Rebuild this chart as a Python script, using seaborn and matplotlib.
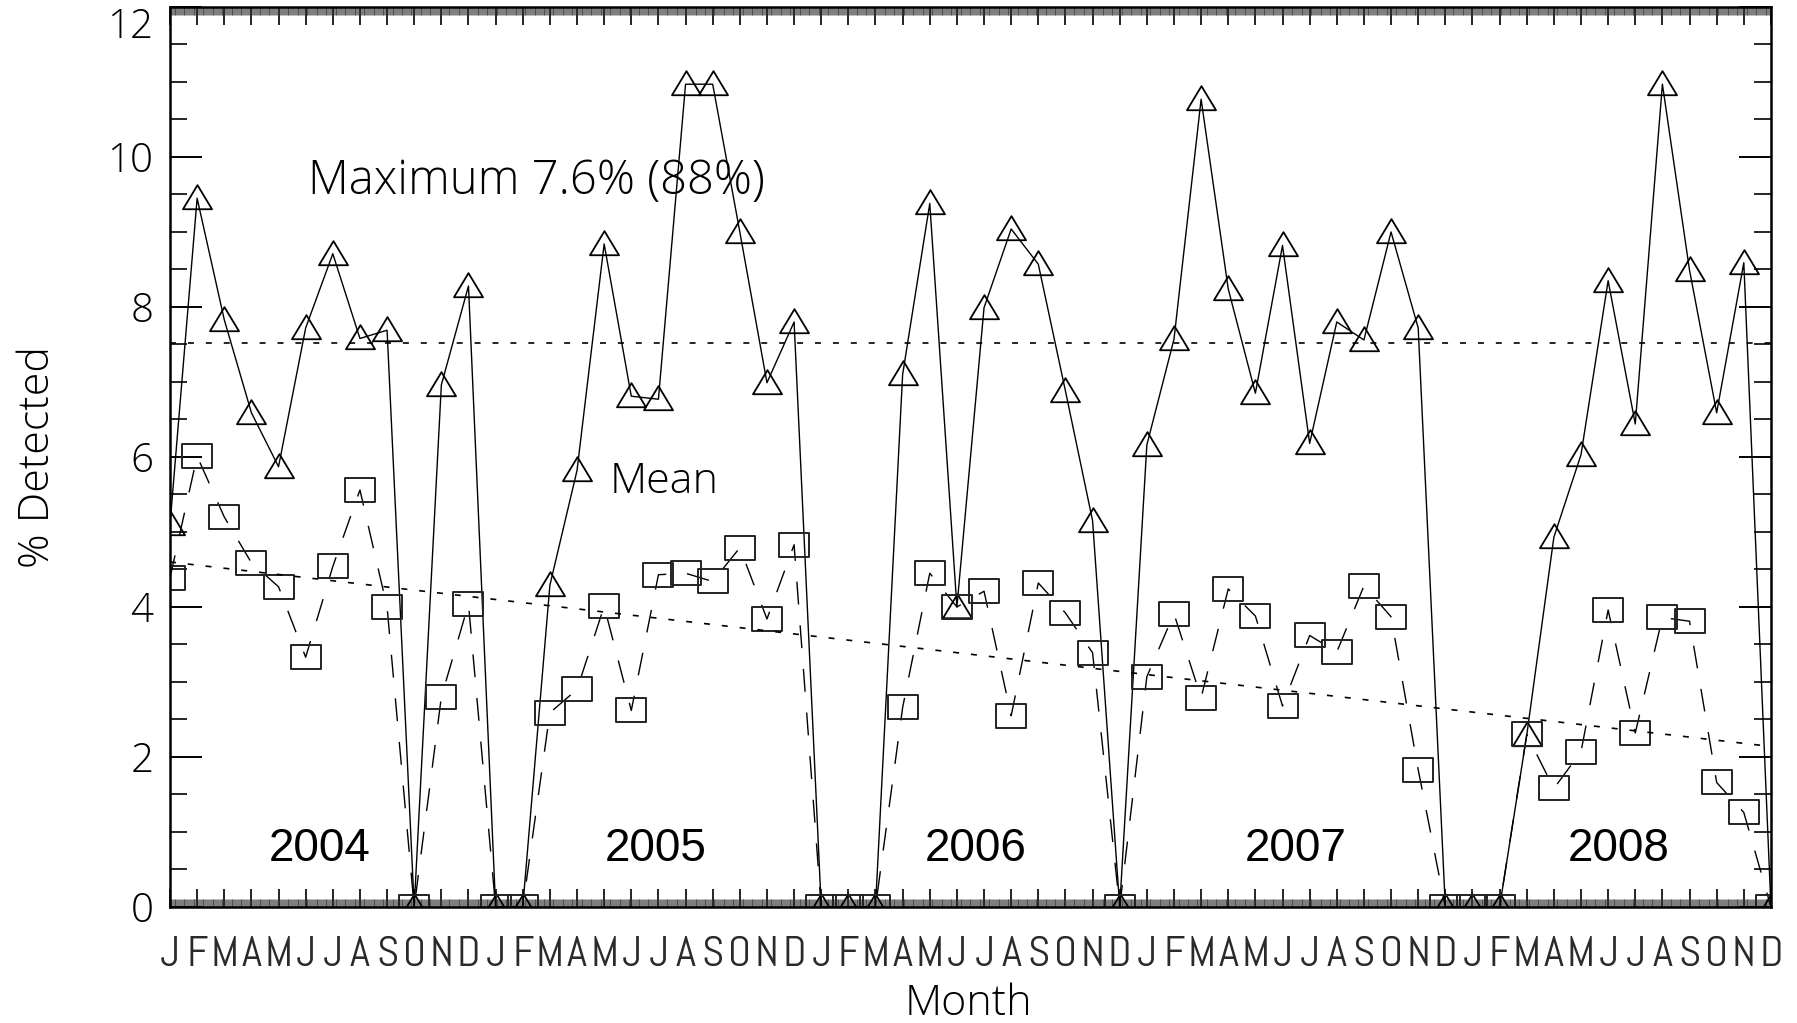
import numpy as np
import pandas as pd
import matplotlib
matplotlib.use("Agg")
import matplotlib.pyplot as plt
from matplotlib.path import Path
from matplotlib.ticker import FixedLocator, MultipleLocator
import seaborn as sns

# ---------------- data ----------------
month_letters = ["J", "F", "M", "A", "M", "J", "J", "A", "S", "O", "N", "D"]
years = ["2004", "2005", "2006", "2007", "2008"]
year_label_x = [5.5, 17.9, 29.7, 41.5, 53.4]
year_label_y = 0.77
y_ticks = [0, 2, 4, 6, 8, 10, 12]

max_detected = [5.1, 9.45, 7.83, 6.59, 5.87, 7.72, 8.71, 7.58, 7.69, 0.0, 6.96, 8.28,
                0.0, 0.0, 4.29, 5.82, 8.84, 6.81, 6.77, 10.97, 10.97, 9.0, 6.99, 7.8,
                0.0, 0.0, 0.0, 7.1, 9.38, 4.0, 7.99, 9.04, 8.57, 6.88, 5.15, 0.0,
                6.16, 7.57, 10.77, 8.24, 6.85, 8.82, 6.18, 7.8, 7.56, 9.0, 7.72, 0.0,
                0.0, 0.0, 2.29, 4.93, 6.03, 8.35, 6.44, 10.97, 8.49, 6.59, 8.59, 0.0]
mean_detected = [4.39, 6.01, 5.2, 4.59, 4.27, 3.33, 4.54, 5.56, 4.0, 0.0, 2.80, 4.04,
                 0.0, 0.0, 2.59, 2.9, 4.01, 2.62, 4.43, 4.45, 4.34, 4.79, 3.84, 4.83,
                 0.0, 0.0, 0.0, 2.66, 4.45, 4.0, 4.21, 2.55, 4.32, 3.92, 3.39, 0.0,
                 3.07, 3.91, 2.79, 4.24, 3.88, 2.68, 3.62, 3.40, 4.28, 3.87, 1.83, 0.0,
                 0.0, 0.0, 2.30, 1.58, 2.07, 3.96, 2.32, 3.86, 3.81, 1.66, 1.26, 0.0]

max_level = 7.52
trend_x = [0, 59]
trend_y = [4.60, 2.14]

max_text = "Maximum 7.6% (88%)"
max_text_pos = (5.09, 9.67)
mean_text = "Mean"
mean_text_pos = (16.2, 5.67)

# ---------------- style ----------------
sns.set_theme(style="white")
thin_family = ["Open Sans", "DejaVu Sans"]
narrow_family = ["Abel", "Open Sans", "DejaVu Sans"]
plt.rcParams["font.family"] = thin_family
plt.rcParams["font.weight"] = "light"
plt.rcParams["lines.scale_dashes"] = False
thin = dict(family=thin_family, weight="light")

fig = plt.figure(figsize=(17.97, 10.23), dpi=100)
ax = fig.add_axes([0.0946, 0.1134, 0.8909, 0.8798])

n = len(max_detected)
df = pd.DataFrame({
    "month": np.arange(n),
    "max": max_detected,
    "mean": mean_detected,
})

tri_marker = Path([(-0.5, -0.37), (0.5, -0.37), (0.0, 0.46), (-0.5, -0.37)],
                  [Path.MOVETO, Path.LINETO, Path.LINETO, Path.CLOSEPOLY])
sq_marker = Path([(-0.5, -0.43), (0.5, -0.43), (0.5, 0.43), (-0.5, 0.43), (-0.5, -0.43)],
                 [Path.MOVETO, Path.LINETO, Path.LINETO, Path.LINETO, Path.CLOSEPOLY])

sns.lineplot(data=df, x="month", y="max", ax=ax, color="black", linewidth=1.0,
             marker=tri_marker, markersize=20.9, markerfacecolor="none",
             markeredgecolor="black", markeredgewidth=1.3, errorbar=None)
sns.lineplot(data=df, x="month", y="mean", ax=ax, color="black", linewidth=1.0,
             linestyle=(0, (16.5, 15)),
             marker=sq_marker, markersize=20.9, markerfacecolor="none",
             markeredgecolor="#222222", markeredgewidth=1.4, errorbar=None)

ax.axhline(max_level, color="black", linewidth=1.2, linestyle=(0, (4.3, 8.6)))
ax.plot(trend_x, trend_y, color="black", linewidth=1.2, linestyle=(0, (4.3, 8.6)))

ax.set_xlim(0, n - 1)
ax.set_ylim(0, 12)

ax.xaxis.set_major_locator(FixedLocator(np.arange(n)))
ax.set_xticklabels([month_letters[i % 12] for i in range(n)])
ax.xaxis.set_minor_locator(MultipleLocator(1 / 30))
ax.yaxis.set_major_locator(FixedLocator(y_ticks))
ax.set_yticklabels([str(v) for v in y_ticks])
ax.yaxis.set_minor_locator(MultipleLocator(0.5))

ax.tick_params(axis="x", which="major", direction="in", length=13, width=1.2,
               top=True, bottom=True, pad=21, labelsize=31, colors="black")
ax.tick_params(axis="x", which="minor", direction="in", length=6, width=0.45,
               top=True, bottom=True, colors="#333333")
ax.tick_params(axis="y", which="major", direction="in", length=23, width=1.4,
               left=True, right=True, pad=12, labelsize=29, colors="black")
ax.tick_params(axis="y", which="minor", direction="in", length=12, width=1.4,
               left=True, right=True)
for lab in ax.get_xticklabels():
    lab.set_family(narrow_family)
    lab.set_fontweight("normal")
    lab.set_color("#2a2a2a")
for lab in ax.get_yticklabels():
    lab.set_fontweight("light")
    lab.set_family(thin_family)
ax.get_yticklabels()[-1].set_verticalalignment("top")

for sp in ax.spines.values():
    sp.set_color("black")
    sp.set_linewidth(1.8)
ax.set_xlabel("")
ax.set_ylabel("")

fig.text(38 / 1797, 1 - 457 / 1023, "% Detected", rotation=90, ha="center", va="center",
         fontsize=31, color="black", **thin)
fig.text(968 / 1797, 1 - 1004 / 1023, "Month", ha="center", va="center",
         fontsize=31, color="black", **thin)

ax.text(*max_text_pos, max_text, ha="left", va="center", fontsize=34, color="black", **thin)
ax.text(*mean_text_pos, mean_text, ha="left", va="center", fontsize=31, color="black", **thin)
for yr, xx in zip(years, year_label_x):
    ax.text(xx, year_label_y, yr, ha="center", va="center", fontsize=33,
            family=["Liberation Sans", "DejaVu Sans"], weight="normal", color="black")

fig.savefig("out.png", dpi=100)
